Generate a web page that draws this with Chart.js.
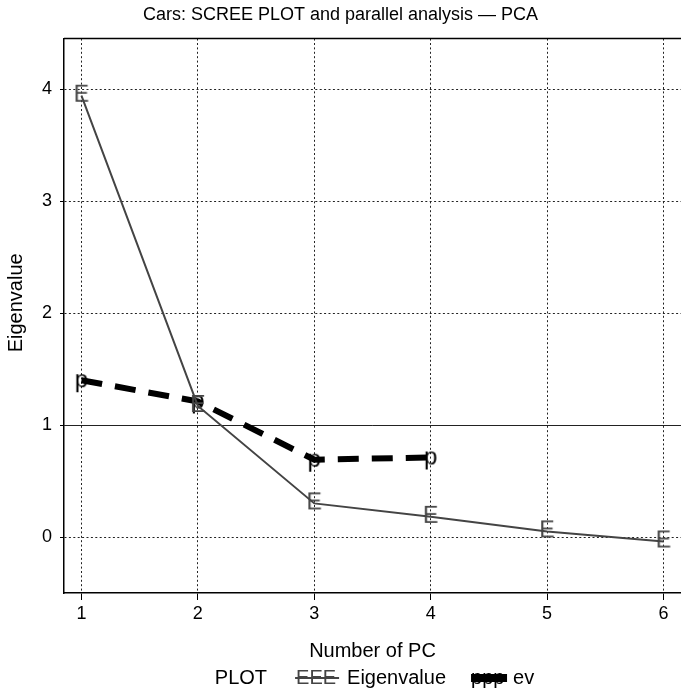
<!DOCTYPE html>
<html>
<head>
<meta charset="utf-8">
<script src="https://cdn.jsdelivr.net/npm/chart.js@4/dist/chart.umd.min.js"></script>
<style>
  body { margin: 0; background: #fff; }
  canvas { display: block; }
</style>
</head>
<body>
<canvas id="scree" width="681" height="694"></canvas>
<script>
// values
const pcNumbers = [1, 2, 3, 4, 5, 6];
const eigenvalues = [3.94, 1.17, 0.30, 0.18, 0.05, -0.04];
const parallelEv = [1.40, 1.21, 0.69, 0.71];
const yTicks = [0, 1, 2, 3, 4];

const FONT = "'Liberation Sans', 'Helvetica Neue', Arial, sans-serif";
const GREY = '#444';

Chart.defaults.font.family = FONT;
Chart.defaults.color = '#000';

// letter markers, like pch="E" / pch="p"
function letterPoint(ch, color, size) {
    var c = document.createElement('canvas');
    c.width = 34;
    c.height = 34;
    var g = c.getContext('2d');
    g.font = size + 'px ' + FONT;
    g.fillStyle = color;
    g.textAlign = 'center';
    g.textBaseline = 'middle';
    g.fillText(ch, 17, 17);
    return c;
}

const framePlugin = {
    id: 'frame',
    beforeDatasetsDraw: function (chart) {
        var ctx = chart.ctx;
        var area = chart.chartArea;
        var y1 = chart.scales.y.getPixelForValue(1);
        ctx.save();
        ctx.strokeStyle = '#222';
        ctx.lineWidth = 1;
        ctx.beginPath();
        ctx.moveTo(area.left, Math.round(y1) + 0.5);
        ctx.lineTo(area.right, Math.round(y1) + 0.5);
        ctx.stroke();
        ctx.restore();
    },
    afterDraw: function (chart) {
        var ctx = chart.ctx;
        var area = chart.chartArea;
        ctx.save();
        // top edge of the box
        ctx.strokeStyle = '#000';
        ctx.lineWidth = 1.5;
        ctx.beginPath();
        ctx.moveTo(area.left, area.top);
        ctx.lineTo(area.right, area.top);
        ctx.stroke();

        // y axis title
        ctx.font = '20px ' + FONT;
        ctx.fillStyle = '#000';
        ctx.textAlign = 'center';
        ctx.textBaseline = 'middle';
        ctx.translate(16, (area.top + area.bottom) / 2 - 13);
        ctx.rotate(-Math.PI / 2);
        ctx.fillText('Eigenvalue', 0, 0);
        ctx.restore();

        // legend row
        ctx.save();
        ctx.font = '20px ' + FONT;
        ctx.textBaseline = 'middle';
        ctx.textAlign = 'left';
        var y = 678;
        var wPlot = ctx.measureText('PLOT').width;
        var wEig = ctx.measureText('Eigenvalue').width;
        var wEv = ctx.measureText('ev').width;
        var total = wPlot + 28 + 44 + 8 + wEig + 25 + 36 + 6 + wEv;
        var x = (area.left + area.right) / 2 + 2 - total / 2;

        ctx.fillStyle = '#000';
        ctx.fillText('PLOT', x, y);
        x += wPlot + 28;

        ctx.strokeStyle = GREY;
        ctx.lineWidth = 2;
        ctx.beginPath();
        ctx.moveTo(x, y);
        ctx.lineTo(x + 44, y);
        ctx.stroke();
        ctx.fillStyle = GREY;
        ctx.fillText('EEE', x + 1, y);
        x += 44 + 8;

        ctx.fillStyle = '#000';
        ctx.fillText('Eigenvalue', x, y);
        x += wEig + 25;

        ctx.fillText('ppp', x, y);
        ctx.strokeStyle = '#000';
        ctx.lineWidth = 8;
        ctx.beginPath();
        ctx.moveTo(x, y);
        ctx.lineTo(x + 36, y);
        ctx.stroke();
        x += 36 + 6;

        ctx.fillText('ev', x, y);
        ctx.restore();
    }
};

const config = {
    type: 'line',
    data: {
        datasets: [
            {
                label: 'Eigenvalue',
                data: pcNumbers.map((pc, i) => ({x: pc, y: eigenvalues[i]})),
                borderColor: GREY,
                borderWidth: 2,
                pointStyle: letterPoint('E', GREY, 23),
                tension: 0
            },
            {
                label: 'ev',
                data: parallelEv.map((v, i) => ({x: pcNumbers[i], y: v})),
                borderColor: '#000',
                borderWidth: 6,
                borderDash: [21, 13],
                borderCapStyle: 'butt',
                pointStyle: letterPoint('p', '#000', 24),
                tension: 0
            }
        ]
    },
    options: {
        responsive: false,
        animation: false,
        layout: {
            autoPadding: false,
            padding: {left: 0, right: 0, top: 0, bottom: 30}
        },
        plugins: {
            legend: {display: false},
            tooltip: {enabled: false},
            title: {
                display: true,
                text: 'Cars: SCREE PLOT and parallel analysis \u2014 PCA',
                color: '#000',
                font: {size: 18, weight: 'normal'},
                padding: {top: 4, bottom: 13}
            }
        },
        scales: {
            x: {
                type: 'linear',
                min: 0.85,
                max: 6.15,
                afterBuildTicks: function (scale) {
                    scale.ticks = pcNumbers.map(v => ({value: v}));
                },
                afterFit: function (scale) {
                    scale.height = 71;
                    scale.paddingLeft = 0;
                    scale.paddingRight = 0;
                },
                ticks: {
                    stepSize: 1,
                    includeBounds: false,
                    padding: 3,
                    color: '#000',
                    font: {size: 18}
                },
                grid: {
                    color: '#222',
                    lineWidth: 1,
                    tickLength: 7,
                    tickColor: '#000'
                },
                border: {
                    color: '#000',
                    width: 1.5,
                    dash: [2, 2.4]
                },
                title: {
                    display: true,
                    text: 'Number of PC',
                    color: '#000',
                    font: {size: 20},
                    padding: {top: 2, bottom: 1}
                }
            },
            y: {
                min: -0.5,
                max: 4.45,
                afterBuildTicks: function (scale) {
                    scale.ticks = yTicks.map(v => ({value: v}));
                },
                afterFit: function (scale) {
                    scale.width = 64;
                    scale.paddingTop = 0;
                    scale.paddingBottom = 0;
                },
                ticks: {
                    stepSize: 1,
                    includeBounds: false,
                    padding: 8,
                    color: '#000',
                    font: {size: 18}
                },
                grid: {
                    color: '#222',
                    lineWidth: 1,
                    tickLength: 4,
                    tickColor: '#000'
                },
                border: {
                    color: '#000',
                    width: 1.5,
                    dash: [2, 2.4]
                }
            }
        }
    },
    plugins: [framePlugin]
};

new Chart(document.getElementById('scree'), config);
</script>
</body>
</html>
